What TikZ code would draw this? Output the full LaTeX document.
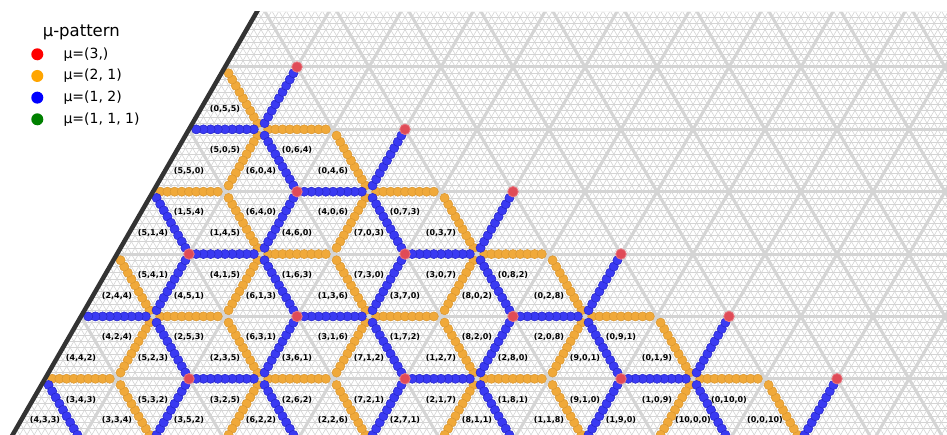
\documentclass[tikz,border=0pt]{standalone}
\usepackage{fontspec}
\setmainfont{DejaVu Sans}
\usetikzlibrary{calc}
\usepackage{xcolor}
\definecolor{MuRed}{HTML}{E04B57}
\definecolor{MuOrange}{HTML}{F0A93A}
\definecolor{MuOrangeEdge}{HTML}{DA962F}
\definecolor{MuBlue}{HTML}{3A3AF2}
\definecolor{MuBlueEdge}{HTML}{2626C8}
\definecolor{Rim}{HTML}{333333}
\definecolor{LegOrange}{HTML}{FFA500}
\definecolor{LegGreen}{HTML}{008000}

\tikzset{
  fine/.style={draw=black!17,line width=0.6pt},
  coarse/.style={draw=black!17,line width=3pt},
  odot/.style={fill=MuOrange,draw=MuOrangeEdge,line width=0.5pt},
  bdot/.style={fill=MuBlue,draw=MuBlueEdge,line width=0.5pt},
  rdot/.style={circle,inner sep=0pt,minimum size=10.5pt,fill=MuRed,draw=MuRed!75!white,line width=0.8pt},
  wlabel/.style={font=\bfseries\fontsize{8}{9}\selectfont,inner sep=0pt},
  legdot/.style={circle,inner sep=0pt,minimum size=12pt},
  legtext/.style={anchor=west,inner sep=0pt,font=\fontsize{14}{16}\selectfont},
}
\newcommand{\muchain}[3]{%
  \foreach \s in {0.1,0.2,0.3,0.4,0.5,0.6,0.7,0.8,0.9}{\path[#1] ($(#2)!\s!(#3)$) circle (4.6pt);}}

\begin{document}
\begin{tikzpicture}[x=1pt,y=-1pt]
  \useasboundingbox (0,0) rectangle (947,435);
  \fill[white] (0,0) rectangle (947,435);
  \foreach \row in {-1,...,7}{
    \foreach \col in {-9,...,7}{
      \coordinate (p\row i\col) at ({297+36*\row+72*\col},{67+62.354*\row});
    }
  }
  \begin{scope}
    \clip (256.8,12) -- (947,12) -- (947,440) -- (9.65,440) -- cycle;
    \draw[fine] \foreach \m in {-9,...,60}{(0,{67+6.2354*\m}) -- (947,{67+6.2354*\m})};
    \draw[fine] \foreach \k in {-70,...,96}{({258.32+7.2*\k},0) -- ({512.35+7.2*\k},440)};
    \draw[fine] \foreach \k in {-45,...,120}{({335.68+7.2*\k},0) -- ({81.65+7.2*\k},440)};
    \draw[coarse] \foreach \m in {0,...,6}{(0,{67+62.354*\m}) -- (947,{67+62.354*\m})};
    \draw[coarse] \foreach \k in {-7,...,10}{({258.32+72*\k},0) -- ({512.35+72*\k},440)};
    \draw[coarse] \foreach \k in {-5,...,12}{({335.68+72*\k},0) -- ({81.65+72*\k},440)};
    \foreach \row in {1,...,6}{
      \foreach \kk in {0,...,3}{
        \pgfmathtruncatemacro{\col}{\row-2-3*\kk}
        \pgfmathtruncatemacro{\lo}{-1-\row}
        \pgfmathtruncatemacro{\cp}{\col+1}
        \pgfmathtruncatemacro{\cm}{\col-1}
        \pgfmathtruncatemacro{\ru}{\row-1}
        \pgfmathtruncatemacro{\rd}{\row+1}
        \ifnum\col>\lo
          \muchain{odot}{p\row i\col}{p\ru i\col}
          \muchain{odot}{p\row i\col}{p\rd i\cm}
        \fi
        \ifnum\col<\lo\else
          \muchain{odot}{p\row i\col}{p\row i\cp}
        \fi
      }
    }
    \foreach \row in {1,...,6}{
      \foreach \kk in {0,...,3}{
        \pgfmathtruncatemacro{\col}{\row-2-3*\kk}
        \pgfmathtruncatemacro{\lo}{-1-\row}
        \pgfmathtruncatemacro{\cp}{\col+1}
        \pgfmathtruncatemacro{\cm}{\col-1}
        \pgfmathtruncatemacro{\ru}{\row-1}
        \pgfmathtruncatemacro{\rd}{\row+1}
        \ifnum\col>\lo
          \muchain{bdot}{p\row i\col}{p\row i\cm}
          \muchain{bdot}{p\row i\col}{p\ru i\cp}
        \fi
        \ifnum\col<\lo\else
          \muchain{bdot}{p\row i\col}{p\rd i\col}
        \fi
      }
    }
    \foreach \row in {0,...,5}{
      \foreach \b in {0,...,4}{
        \pgfmathtruncatemacro{\col}{\row-3*\b}
        \pgfmathtruncatemacro{\lo}{-1-\row}
        \ifnum\col>\lo \node[rdot] (red\row i\col) at (p\row i\col) {};\fi
      }
    }
  \end{scope}
  \begin{scope}
    \clip (0,12) rectangle (947,440);
    \draw[Rim,line width=4.5pt] ($(p0i-1)!-0.3!(p6i-7)$) -- ($(p0i-1)!1.1!(p6i-7)$);
  \end{scope}
  \foreach \row/\col/\txt in {0/-1/{(0,5,5)},
      1/-2/{(5,5,0)},1/-1/{(6,0,4)},1/0/{(0,4,6)},
      2/-3/{(5,1,4)},2/-2/{(1,4,5)},2/-1/{(4,6,0)},2/0/{(7,0,3)},2/1/{(0,3,7)},
      3/-4/{(2,4,4)},3/-3/{(4,5,1)},3/-2/{(6,1,3)},3/-1/{(1,3,6)},3/0/{(3,7,0)},3/1/{(8,0,2)},3/2/{(0,2,8)},
      4/-5/{(4,4,2)},4/-4/{(5,2,3)},4/-3/{(2,3,5)},4/-2/{(3,6,1)},4/-1/{(7,1,2)},4/0/{(1,2,7)},4/1/{(2,8,0)},4/2/{(9,0,1)},4/3/{(0,1,9)},
      5/-6/{(4,3,3)},5/-5/{(3,3,4)},5/-4/{(3,5,2)},5/-3/{(6,2,2)},5/-2/{(2,2,6)},5/-1/{(2,7,1)},5/0/{(8,1,1)},5/1/{(1,1,8)},5/2/{(1,9,0)},5/3/{(10,0,0)},5/4/{(0,0,10)}}
    \node[wlabel] (u\row i\col) at ($(p\row i\col)+(0,41.57)$) {\txt};
  \foreach \row/\col/\txt in {2/-2/{(5,0,5)},2/-1/{(0,6,4)},
      3/-3/{(1,5,4)},3/-2/{(6,4,0)},3/-1/{(4,0,6)},3/0/{(0,7,3)},
      4/-4/{(5,4,1)},4/-3/{(4,1,5)},4/-2/{(1,6,3)},4/-1/{(7,3,0)},4/0/{(3,0,7)},4/1/{(0,8,2)},
      5/-5/{(4,2,4)},5/-4/{(2,5,3)},5/-3/{(6,3,1)},5/-2/{(3,1,6)},5/-1/{(1,7,2)},5/0/{(8,2,0)},5/1/{(2,0,8)},5/2/{(0,9,1)},
      6/-6/{(3,4,3)},6/-5/{(5,3,2)},6/-4/{(3,2,5)},6/-3/{(2,6,2)},6/-2/{(7,2,1)},6/-1/{(2,1,7)},6/0/{(1,8,1)},6/1/{(9,1,0)},6/2/{(1,0,9)},6/3/{(0,10,0)}}
    \node[wlabel] (d\row i\col) at ($(p\row i\col)+(0,-41.57)$) {\txt};
  \node[font=\fontsize{16.5}{19}\selectfont,inner sep=0pt] (legtitle) at (81.3,32.5) {μ-pattern};
  \foreach \clr/\txt [count=\j] in {red/{μ=(3,)},LegOrange/{μ=(2, 1)},blue/{μ=(1, 2)},LegGreen/{μ=(1, 1, 1)}}{
    \node[legdot,fill=\clr] (key\j) at (37.3,{54.3+21.67*(\j-1)}) {};
    \node[legtext] (keytext\j) at (63.3,{54.3+21.67*(\j-1)}) {\txt};
  }
\end{tikzpicture}
\end{document}
